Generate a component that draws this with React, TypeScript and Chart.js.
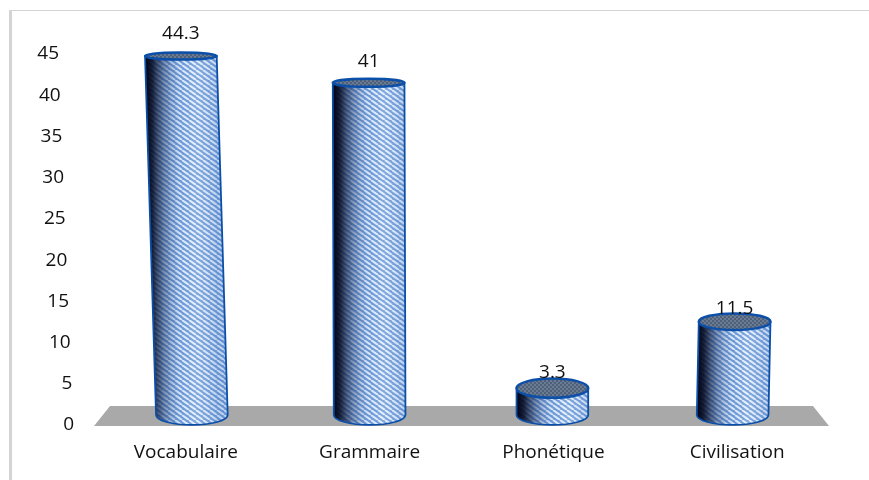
import React, { useEffect, useRef } from "react";
import { Chart, registerables } from "chart.js";

Chart.register(...registerables);

const categories = ["Vocabulaire", "Grammaire", "Phonétique", "Civilisation"];
const values = [44.3, 41, 3.3, 11.5];
const valueLabels = ["44.3", "41", "3.3", "11.5"];
const yTicks = [0, 5, 10, 15, 20, 25, 30, 35, 40, 45];
// horizontal perspective drift of each column, [top, base], in px
const columnLean = [[-5, 6], [-1, 0], [-1, -1], [-2.5, -4.5]];
// small vertical nudge of each value label, in px
const labelDrop = [0, 0, 0, 4];

const FONT = '"Open Sans", "DejaVu Sans", sans-serif';
const FONT_SIZE = 19;

function makeStripes(ctx: CanvasRenderingContext2D) {
  const c = document.createElement("canvas");
  c.width = 7;
  c.height = 5;
  const p = c.getContext("2d")!;
  p.fillStyle = "#6d9ad8";
  p.fillRect(0, 0, 7, 5);
  p.strokeStyle = "#e4f0fe";
  p.lineWidth = 2;
  for (let i = -7; i <= 14; i += 7) {
    p.beginPath();
    p.moveTo(i, 0);
    p.lineTo(i + 7, 5);
    p.stroke();
  }
  return ctx.createPattern(c, "repeat")!;
}

function makeDots(ctx: CanvasRenderingContext2D) {
  const c = document.createElement("canvas");
  c.width = 4;
  c.height = 4;
  const p = c.getContext("2d")!;
  p.fillStyle = "#6a7c94";
  p.fillRect(0, 0, 4, 4);
  p.fillStyle = "#4f6078";
  p.fillRect(0, 0, 2, 2);
  p.fillRect(2, 2, 2, 2);
  return ctx.createPattern(c, "repeat")!;
}

const cylinderPlugin = {
  id: "cylinders",
  beforeDraw(chart: any) {
    // the value axis leans with the 3D perspective: upper labels sit further left
    const scale = chart.scales.y;
    scale.getLabelItems(chart.chartArea).forEach((item: any, i: number) => {
      const value = scale.ticks[i].value;
      if (!item.__leaned) {
        item.options.translation[0] -= 12 + (value / 45) * 15;
        item.options.translation[1] += 2;
        item.__leaned = true;
      }
    });
  },
  beforeDatasetsDraw(chart: any) {
    const { ctx, chartArea } = chart;
    const zero = chart.scales.yBars.getPixelForValue(0);
    const top = zero - 9;
    const bottom = chartArea.bottom + 3;
    ctx.save();
    ctx.fillStyle = "#a9a9a9";
    ctx.beginPath();
    ctx.moveTo(chartArea.left + 16, top);
    ctx.lineTo(chartArea.right - 16, top);
    ctx.lineTo(chartArea.right, bottom);
    ctx.lineTo(chartArea.left, bottom);
    ctx.closePath();
    ctx.fill();
    ctx.restore();
  },
  beforeDatasetDraw(chart: any, args: any) {
    const { ctx, chartArea } = chart;
    const stripes = makeStripes(ctx);
    const dots = makeDots(ctx);
    const flat = (y: number) => 3.5 + (y - chartArea.top) * 0.018;
    const edge = "#0b4fa8";
    args.meta.data.forEach((bar: any, i: number) => {
      const half = bar.width / 2;
      const [leanTop, leanBase] = columnLean[i];
      const tx = bar.x + leanTop;
      const bx = bar.x + leanBase;
      const ty = bar.y;
      const by = bar.base;
      const try_ = flat(ty);
      const bry = flat(by);

      const body = () => {
        ctx.beginPath();
        ctx.moveTo(tx - half, ty);
        ctx.lineTo(bx - half, by);
        ctx.ellipse(bx, by, half, bry, 0, Math.PI, 0, true);
        ctx.lineTo(tx + half, ty);
        ctx.closePath();
      };
      ctx.save();
      body();
      ctx.fillStyle = stripes;
      ctx.fill();
      const l = Math.min(tx, bx) - half;
      const g = ctx.createLinearGradient(l, 0, l + 2 * half, 0);
      g.addColorStop(0, "rgba(0,0,15,1)");
      g.addColorStop(0.1, "rgba(5,12,35,0.9)");
      g.addColorStop(0.28, "rgba(35,60,110,0.5)");
      g.addColorStop(0.5, "rgba(90,130,190,0.08)");
      g.addColorStop(0.7, "rgba(255,255,255,0.15)");
      g.addColorStop(1, "rgba(70,115,185,0.22)");
      ctx.fillStyle = g;
      ctx.fill();
      ctx.strokeStyle = edge;
      ctx.lineWidth = 1.8;
      ctx.stroke();

      ctx.beginPath();
      ctx.ellipse(tx, ty, half, try_, 0, 0, Math.PI * 2);
      ctx.fillStyle = dots;
      ctx.fill();
      ctx.lineWidth = 2.5;
      ctx.stroke();
      ctx.restore();
    });
    return false;
  },
  afterDatasetsDraw(chart: any) {
    const { ctx } = chart;
    const meta = chart.getDatasetMeta(0);
    ctx.save();
    ctx.fillStyle = "#111";
    ctx.font = `${FONT_SIZE}px ${FONT}`;
    ctx.textAlign = "center";
    ctx.textBaseline = "middle";
    meta.data.forEach((bar: any, i: number) => {
      const flat = 3.5 + (bar.y - chart.chartArea.top) * 0.018;
      ctx.fillText(valueLabels[i], bar.x + columnLean[i][0], bar.y - (26 - 1.1 * flat) + labelDrop[i]);
    });
    ctx.restore();
  },
};

export default function App() {
  const ref = useRef<HTMLCanvasElement>(null);
  useEffect(() => {
    document.body.style.margin = "0";
    const chart = new Chart(ref.current!, {
      type: "bar",
      data: {
        labels: categories,
        datasets: [
          {
            data: values,
            yAxisID: "yBars",
            backgroundColor: "#6d9ad8",
            borderColor: "#0b4fa8",
            barPercentage: 0.39,
            categoryPercentage: 1,
          },
        ],
      },
      options: {
        responsive: false,
        animation: false,
        events: [],
        layout: { padding: { left: 0, right: 40, top: 52, bottom: 0 } },
        plugins: { legend: { display: false }, tooltip: { enabled: false } },
        scales: {
          x: {
            grid: { display: false },
            border: { display: false },
            ticks: {
              color: "#111",
              padding: 10,
              font: { family: FONT, size: FONT_SIZE },
              maxRotation: 0,
            },
            afterFit: (s: any) => {
              s.height = 57;
            },
          },
          y: {
            min: 0,
            max: 45,
            grid: { display: false },
            border: { display: false },
            afterBuildTicks: (s: any) => {
              s.ticks = yTicks.map((value) => ({ value }));
            },
            ticks: {
              color: "#111",
              padding: 0,
              font: { family: FONT, size: FONT_SIZE },
            },
            afterFit: (s: any) => {
              s.width = 94;
            },
          },
          yBars: {
            display: false,
            min: -1,
            max: 44.8,
          },
        },
      },
      plugins: [cylinderPlugin],
    } as any);
    return () => chart.destroy();
  }, []);
  return (
    <div style={{ position: "relative", width: 869, height: 480, background: "#fff", overflow: "hidden" }}>
      <div style={{ position: "absolute", left: 9, top: 10, width: 860, height: 1, background: "#d4d4d4" }} />
      <div style={{ position: "absolute", left: 9, top: 10, width: 3, height: 470, background: "#d4d4d4" }} />
      <canvas ref={ref} width={869} height={480} style={{ position: "absolute", left: 0, top: 0 }} />
    </div>
  );
}
